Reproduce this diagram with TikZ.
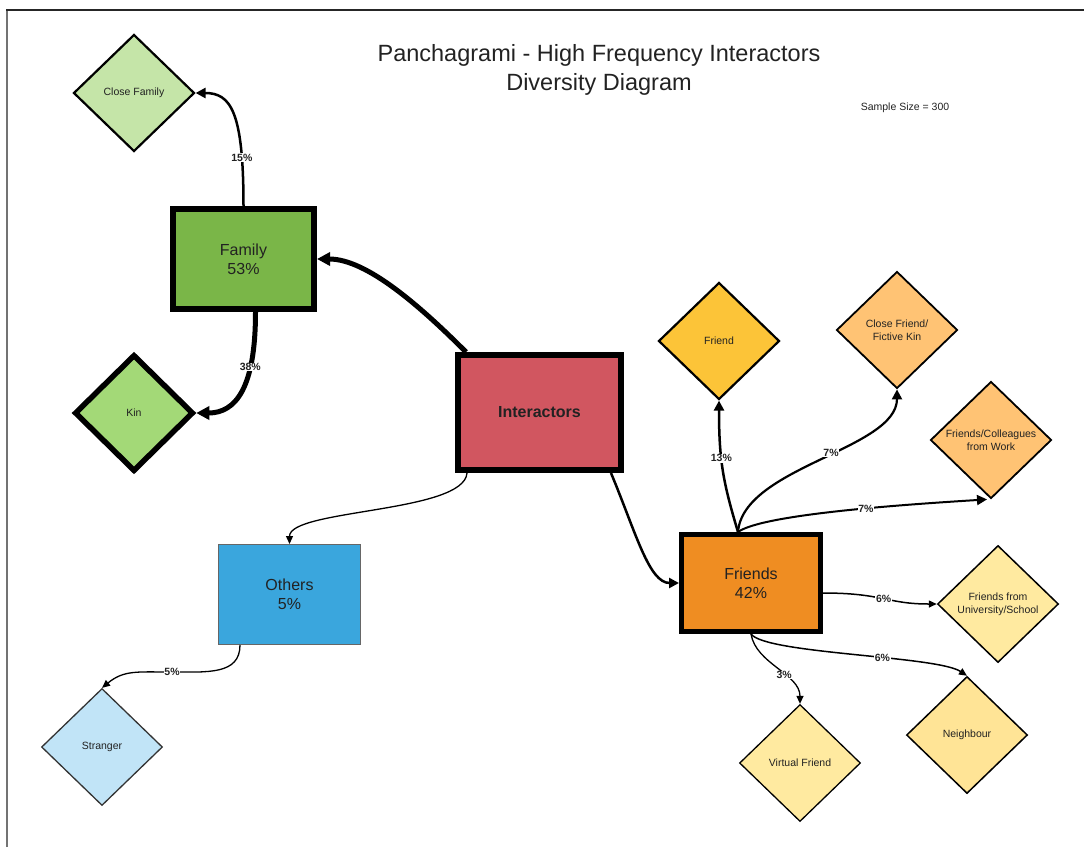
\documentclass[tikz,border=0pt]{standalone}
\usepackage{fontspec}
\setmainfont{Liberation Sans}
\usetikzlibrary{shapes.geometric,arrows.meta,calc}
\definecolor{cfamc}{HTML}{C5E5A8}
\definecolor{famc}{HTML}{7AB648}
\definecolor{kinc}{HTML}{A3D977}
\definecolor{interc}{HTML}{D15660}
\definecolor{othersc}{HTML}{3AA6DD}
\definecolor{strangerc}{HTML}{C1E4F7}
\definecolor{friendsc}{HTML}{EF8D22}
\definecolor{friendc}{HTML}{FCC438}
\definecolor{lorangec}{HTML}{FFC374}
\definecolor{yellowc}{HTML}{FFEAA0}
\definecolor{neighc}{HTML}{FFE496}
\definecolor{txtc}{HTML}{222222}
\begin{document}
\begin{tikzpicture}[x=1pt,y=-1pt,
  box/.style={draw=black, rectangle, align=center, inner sep=0pt, text=txtc,
    font=\fontsize{16}{19}\selectfont},
  dia/.style={draw=black, diamond, align=center, inner sep=0pt, text=txtc,
    minimum width=121, minimum height=117, line width=2.2,
    font=\fontsize{10.5}{13}\selectfont},
  lbl/.style={fill=white, inner sep=0.6pt, text=txtc,
    font=\bfseries\fontsize{10.5}{12}\selectfont},
  conn/.style={draw=black, line width=#1,
    -{Triangle[length=10pt,width=10pt]}},
  thinconn/.style={draw=black, line width=#1,
    -{Triangle[length=8pt,width=7pt]}},
  fatconn/.style={draw=black, line width=#1,
    -{Triangle[length=13pt,width=13pt]}}
]
\useasboundingbox (0,0) rectangle (1084,847);
% frame
\draw[draw=black!55, line width=1.8] (7,847) -- (7,10);
\draw[draw=black!85, line width=1.5] (6.1,10) -- (1084,10);

% title
\node[text=txtc, align=center, font=\fontsize{23.5}{29}\selectfont] (title) at (599,70)
  {Panchagrami - High Frequency Interactors\\Diversity Diagram};
\node[text=txtc, font=\fontsize{10.5}{13}\selectfont] (sample) at (905,108) {Sample Size = 300};

% main boxes
\node[box, line width=6, fill=famc, minimum width=141, minimum height=100] (fam) at (243.5,259) {Family\\53\%};
\node[box, line width=6, fill=interc, minimum width=163, minimum height=115,
  font=\bfseries\fontsize{16}{19}\selectfont] (inter) at (539.5,412.5) {Interactors};
\node[box, line width=1, draw=black!60, fill=othersc, minimum width=142, minimum height=100] (others) at (289.5,594.5) {Others\\5\%};
\node[box, line width=5, fill=friendsc, minimum width=139, minimum height=97] (friends) at (751,583) {Friends\\42\%};

% diamonds
\node[dia, fill=cfamc] (cf) at (134,93) {Close Family};
\node[dia, fill=kinc, line width=5.5, minimum width=119, minimum height=117] (kin) at (134,413) {Kin};
\node[dia, fill=strangerc, line width=1.3, draw=black!80] (stranger) at (102,747) {Stranger};
\node[dia, fill=friendc] (friend) at (719,341) {Friend};
\node[dia, fill=lorangec, line width=1.8] (cfk) at (897,330) {Close Friend/\\Fictive Kin};
\node[dia, fill=lorangec, line width=1.8] (col) at (991,440) {Friends/Colleagues\\from Work};
\node[dia, fill=yellowc, line width=1.5] (uni) at (998,604) {Friends from\\University/School};
\node[dia, fill=neighc, line width=1.5] (neigh) at (967,735) {Neighbour};
\node[dia, fill=yellowc, line width=1.3] (vf) at (800,763) {Virtual Friend};

% connectors
\draw[fatconn=5] ($(inter.north west)+(11,0)$) .. controls +(-45,-45) and +(50,0) .. (fam.east);
\draw[conn=2.5] (fam.north) .. controls +(0,-95) and +(35,0) .. (cf.east)
  node[lbl, pos=0.2] {15\%};
\draw[fatconn=5] ($(fam.south)+(12,0)$) .. controls +(0,75) and +(40,0) .. (kin.east)
  node[lbl, pos=0.3] {38\%};
\draw[thinconn=1.3] ($(inter.south west)+(12,0)$) .. controls +(-3,40) and +(0,-35) .. (others.north);
\draw[conn=2.5] ($(inter.south east)+(-13,0)$) .. controls +(25,60) and +(-30,0) .. (friends.west);
\draw[thinconn=1.3] ($(others.south west)+(22,0)$) .. controls +(0,30) and +(35,0) .. (172,672)
  node[lbl] {5\%} .. controls +(-35,0) and +(22,-18) .. (stranger.north);

\draw[conn=2.5] ($(friends.north)+(-13,0)$) .. controls +(-15,-50) and +(0,60) .. (friend.south)
  node[lbl, pos=0.6] {13\%};
\draw[conn=2.2] ($(friends.north)+(-13,0)$) .. controls +(5,-65) and +(0,60) .. (cfk.south)
  node[lbl, pos=0.55] {7\%};
\draw[conn=2] ($(friends.north)+(-13,0)$) .. controls +(25,-18) and +(-80,5) .. ($(col.south)+(-4,0)$)
  node[lbl, pos=0.58] {7\%};
\draw[thinconn=1.5] ($(friends.east)+(0,10)$) .. controls +(60,0) and +(-50,0) .. (uni.west)
  node[lbl, pos=0.5] {6\%};
\draw[thinconn=1.5] (friends.south) .. controls +(15,20) and +(-30,-20) .. (neigh.north)
  node[lbl, pos=0.6] {6\%};
\draw[thinconn=1.3] (friends.south) .. controls +(5,30) and +(0,-30) .. (vf.north)
  node[lbl, pos=0.6] {3\%};
\end{tikzpicture}
\end{document}
